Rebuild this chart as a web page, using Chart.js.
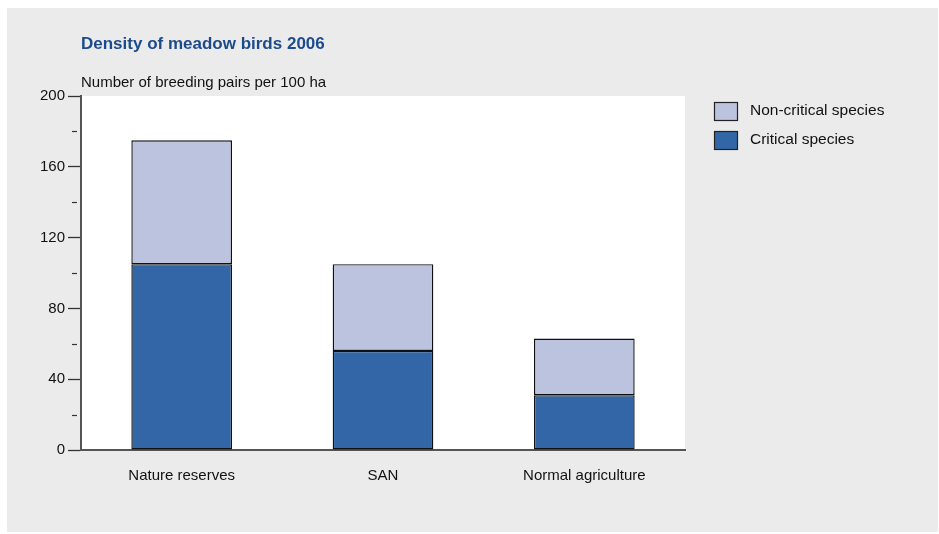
<!DOCTYPE html>
<html>
<head>
<meta charset="utf-8">
<script src="https://cdn.jsdelivr.net/npm/chart.js@4/dist/chart.umd.min.js"></script>
<style>
  body { margin: 0; background: #ffffff; }
  #box { position: absolute; left: 7px; top: 8px; width: 931px; height: 524px; background: #ebebeb; }
  #chart { display: block; }
</style>
</head>
<body>
<div id="box"><canvas id="chart" width="931" height="524"></canvas></div>
<script>
const FONT = '"Liberation Sans", Arial, sans-serif';

const categories = ["Nature reserves", "SAN", "Normal agriculture"];
const criticalSpecies = [105, 56, 31];
const nonCriticalSpecies = [70, 49, 32];
const yTicks = [0, 20, 40, 60, 80, 100, 120, 140, 160, 180, 200];

const titleText = "Density of meadow birds 2006";
const yAxisTitle = "Number of breeding pairs per 100 ha";

const criticalColor = "#3366a6";
const nonCriticalColor = "#bcc3df";

// titles, minor ticks and legend drawn on the canvas
const decor = {
  id: "decor",
  beforeDraw(chart) {
    const { ctx, chartArea } = chart;
    ctx.save();
    ctx.fillStyle = "#ffffff";
    ctx.fillRect(chartArea.left, chartArea.top, chartArea.right - chartArea.left, chartArea.bottom - chartArea.top);
    ctx.restore();
  },
  afterDraw(chart) {
    const { ctx, chartArea } = chart;
    const y = chart.scales.y;
    ctx.save();
    ctx.textBaseline = "middle";
    ctx.textAlign = "left";
    ctx.fillStyle = "#1c4b8c";
    ctx.font = "bold 17px " + FONT;
    ctx.fillText(titleText, 74, 36);
    ctx.fillStyle = "#111111";
    ctx.font = "15px " + FONT;
    ctx.fillText(yAxisTitle, 74, 75);

    // minor ticks
    ctx.strokeStyle = "#333333";
    ctx.lineWidth = 1.2;
    yTicks.forEach(v => {
      if (v % 40 !== 0) {
        const py = Math.round(y.getPixelForValue(v)) + 0.5;
        ctx.beginPath();
        ctx.moveTo(chartArea.left - 9, py);
        ctx.lineTo(chartArea.left - 4, py);
        ctx.stroke();
      }
    });

    // legend
    const items = [
      { label: chart.data.datasets[1].label, color: nonCriticalColor },
      { label: chart.data.datasets[0].label, color: criticalColor }
    ];
    items.forEach((it, i) => {
      const top = 94 + i * 29;
      ctx.fillStyle = it.color;
      ctx.fillRect(707, top, 23, 18);
      ctx.strokeStyle = "#222222";
      ctx.lineWidth = 1.2;
      ctx.strokeRect(707.5, top + 0.5, 23, 18);
      ctx.fillStyle = "#111111";
      ctx.font = "15.5px " + FONT;
      ctx.fillText(it.label, 743, top + 9);
    });
    ctx.restore();
  }
};

new Chart(document.getElementById("chart"), {
  type: "bar",
  plugins: [decor],
  data: {
    labels: categories,
    datasets: [
      {
        label: "Critical species",
        data: criticalSpecies,
        backgroundColor: criticalColor,
        borderColor: "#111111",
        borderWidth: 1.4,
        borderSkipped: false,
        barPercentage: 1,
        categoryPercentage: 0.5
      },
      {
        label: "Non-critical species",
        data: nonCriticalSpecies,
        backgroundColor: nonCriticalColor,
        borderColor: "#111111",
        borderWidth: 1.4,
        borderSkipped: false,
        barPercentage: 1,
        categoryPercentage: 0.5
      }
    ]
  },
  options: {
    responsive: false,
    animation: false,
    layout: { padding: { left: 14, top: 88, right: 253, bottom: 42 } },
    plugins: {
      legend: { display: false },
      tooltip: { enabled: false }
    },
    scales: {
      x: {
        stacked: true,
        afterFit: s => { s.height = 40; },
        border: { color: "#555555", width: 2 },
        grid: { display: false },
        ticks: { color: "#111111", font: { family: FONT, size: 15 }, padding: 9 }
      },
      y: {
        stacked: true,
        min: 0,
        max: 200,
        afterFit: s => { s.width = 60; },
        afterBuildTicks: s => { s.ticks = yTicks.map(v => ({ value: v })); },
        border: { color: "#555555", width: 2 },
        grid: {
          drawOnChartArea: false,
          drawTicks: true,
          tickLength: 13,
          tickWidth: 1.3,
          tickColor: c => (c.tick && c.tick.value % 40 === 0 ? "#333333" : "rgba(0,0,0,0)")
        },
        ticks: {
          color: "#111111",
          font: { family: FONT, size: 15 },
          padding: 3,
          callback: v => (v % 40 === 0 ? String(v) : "")
        }
      }
    }
  }
});
</script>
</body>
</html>
